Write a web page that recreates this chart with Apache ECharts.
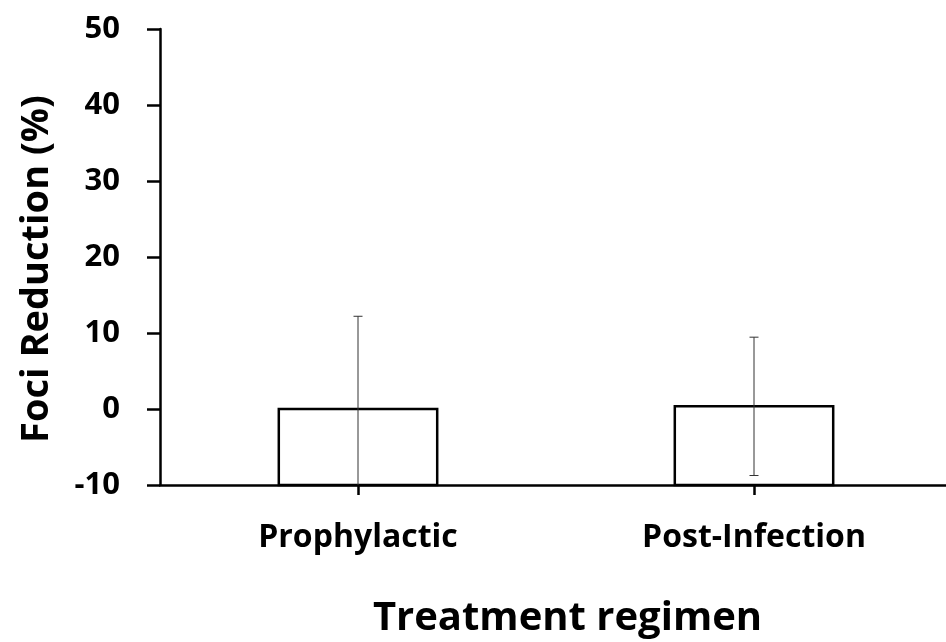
<!DOCTYPE html>
<html>
<head>
<meta charset="utf-8">
<script src="https://cdn.jsdelivr.net/npm/echarts@6/dist/echarts.min.js"></script>
<style>
html,body{margin:0;padding:0;background:#fff;}
#chart{width:946px;height:642px;}
</style>
</head>
<body>
<div id="chart"></div>
<script>
const categories = ['Prophylactic', 'Post-Infection'];
const means = [0.0, 0.35];
const errors = [12.2, 9.1];
const yMin = -10;
const yMax = 50;
const yInterval = 10;

const FONT = '"Open Sans"';

const chart = echarts.init(document.getElementById('chart'), null, {renderer: 'canvas'});

function renderBar(params, api) {
  const i = api.value(0);
  const v = api.value(1);
  const top = api.coord([i, v]);
  const base = api.coord([i, yMin]);
  const w = api.size([1, 0])[0] * 0.4;
  return {
    type: 'rect',
    shape: {x: top[0] - w / 2, y: top[1], width: w, height: base[1] - top[1]},
    style: {fill: '#ffffff', stroke: '#000000', lineWidth: 2.5}
  };
}

function renderErr(params, api) {
  const i = api.value(0);
  const hi = api.value(1);
  const lo = Math.max(api.value(2), yMin);
  const pHi = api.coord([i, hi]);
  const pLo = api.coord([i, lo]);
  const cap = 4.5;
  const children = [
    {type: 'line', shape: {x1: pHi[0], y1: pHi[1], x2: pLo[0], y2: pLo[1]}, style: {stroke: '#333', lineWidth: 1}},
    {type: 'line', shape: {x1: pHi[0] - cap, y1: pHi[1], x2: pHi[0] + cap, y2: pHi[1]}, style: {stroke: '#333', lineWidth: 1}}
  ];
  if (api.value(2) > yMin) {
    children.push({type: 'line', shape: {x1: pLo[0] - cap, y1: pLo[1], x2: pLo[0] + cap, y2: pLo[1]}, style: {stroke: '#333', lineWidth: 1}});
  }
  return {type: 'group', children: children};
}

const option = {
  backgroundColor: '#ffffff',
  animation: false,
  grid: {left: 160, top: 29, width: 792, bottom: 157, containLabel: false, outerBoundsMode: 'none'},
  xAxis: {
    type: 'category',
    data: categories,
    boundaryGap: true,
    axisLine: {onZero: false, lineStyle: {color: '#000', width: 2.5}},
    axisTick: {show: true, alignWithLabel: true, length: 10, lineStyle: {color: '#000', width: 2.5}},
    axisLabel: {margin: 37, color: '#000', fontFamily: FONT, fontWeight: 'bold', fontSize: 32, interval: 0},
    name: 'Treatment regimen',
    nameLocation: 'middle',
    nameGap: 114,
    nameTextStyle: {color: '#000', fontFamily: FONT, fontWeight: 'bold', fontSize: 40, padding: [0, 0, 0, 23]},
    splitLine: {show: false}
  },
  yAxis: {
    type: 'value',
    min: yMin,
    max: yMax,
    interval: yInterval,
    axisLine: {show: true, lineStyle: {color: '#000', width: 2.5}},
    axisTick: {show: true, length: 13, lineStyle: {color: '#000', width: 2.5}},
    axisLabel: {margin: 40, color: '#000', fontFamily: FONT, fontWeight: 'bold', fontSize: 31},
    splitLine: {show: false},
    name: 'Foci Reduction (%)',
    nameLocation: 'middle',
    nameGap: 104,
    nameTextStyle: {color: '#000', fontFamily: FONT, fontWeight: 'bold', fontSize: 38, padding: [0, 24, 0, 0]}
  },
  series: [
    {
      type: 'custom',
      renderItem: renderBar,
      data: categories.map((c, i) => [i, means[i]]),
      z: 2
    },
    {
      type: 'custom',
      renderItem: renderErr,
      data: categories.map((c, i) => [i, means[i] + errors[i], means[i] - errors[i]]),
      z: 3
    }
  ]
};
chart.setOption(option);
</script>
</body>
</html>
